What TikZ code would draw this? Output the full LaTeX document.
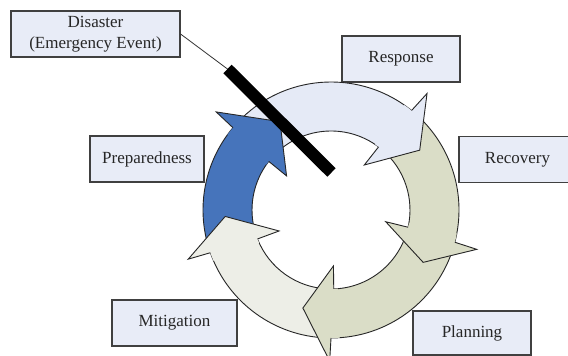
\documentclass[tikz,border=0pt]{standalone}
\usepackage{fontspec}
\setmainfont{Liberation Serif}
\definecolor{boxfill}{HTML}{E8ECF7}
\definecolor{respfill}{HTML}{E5EAF6}
\definecolor{greenfill}{HTML}{DADDC7}
\definecolor{mitfill}{HTML}{EDEEE7}
\definecolor{bluefill}{HTML}{4674BB}
% #1 colour, #2 tail angle, #3 junction angle
\newcommand\arrbody[3]{%
  \fill[#1] (#2:128pt) arc[start angle=#2,end angle=#3,radius=128pt]
     -- (#3+2:79pt) arc[start angle=#3+2,end angle=#2,radius=79pt] -- cycle;
  \draw[ringline] (#2:128pt) arc[start angle=#2,end angle=#3,radius=128pt];
  \draw[ringline] (#3+2:79pt) arc[start angle=#3+2,end angle=#2,radius=79pt];}
% #1 colour, #2 junction angle, #3 tip offset, #4 tip radius
\newcommand\arrhead[4]{%
  \fill[#1] (#2+4:128pt) arc[start angle=#2+4,end angle=#2,radius=128pt]
     -- (#2-0.5:151pt) -- (#2-#3:#4pt) -- (#2+2.5:56pt) -- (#2+2:79pt)
     arc[start angle=#2+2,end angle=#2+5,radius=79pt] -- cycle;
  \draw[ringline,line join=miter] (#2:128pt) -- (#2-0.5:151pt) -- (#2-#3:#4pt)
     -- (#2+2.5:56pt) -- (#2+2:79pt);}
\begin{document}
\begin{tikzpicture}[x=1pt,y=1pt,
  ringline/.style={draw=black!85,line width=0.9pt},
  labelbox/.style={draw=black!75,line width=1.1pt,fill=boxfill,minimum height=46pt,
    inner sep=0pt,font=\fontsize{17}{20.5}\selectfont,text=black!85,align=center}]
\clip (0,0) rectangle (568,356);
\fill[white] (0,0) rectangle (568,356);
\node[labelbox,minimum width=169pt] (dis) at (95.5,322) {Disaster\\(Emergency Event)};
\node[labelbox,minimum width=118pt] (resp) at (401,297) {Response};
\node[labelbox,minimum width=117pt] (reco) at (517.5,196.5) {Recovery};
\node[labelbox,minimum width=114pt] (prep) at (147,197) {Preparedness};
\node[labelbox,minimum width=125pt] (miti) at (174.5,33) {Mitigation};
\node[labelbox,minimum width=118pt,minimum height=44pt] (plan) at (472,23) {Planning};
\begin{scope}[shift={(331,146)}]
  \arrbody{respfill}{138}{51}
  \arrbody{greenfill}{49}{-14.6}
  \arrbody{greenfill}{-16.6}{-90}
  \arrbody{mitfill}{268}{199.5}
  \arrbody{bluefill}{197.5}{140}
  \arrhead{respfill}{51}{17}{107}
  \arrhead{greenfill}{-14.6}{15}{106}
  \arrhead{greenfill}{-90}{16}{102}
  \arrhead{mitfill}{199.5}{16}{106}
  \arrhead{bluefill}{140}{20}{102}
\end{scope}
\coordinate (bartop) at (227.5,287);
\coordinate (barbot) at (331.5,183.5);
\draw[black!80,line width=0.8pt] (dis.east) -- (bartop);
\draw[black,line width=12pt] (bartop) -- (barbot);
\end{tikzpicture}
\end{document}
